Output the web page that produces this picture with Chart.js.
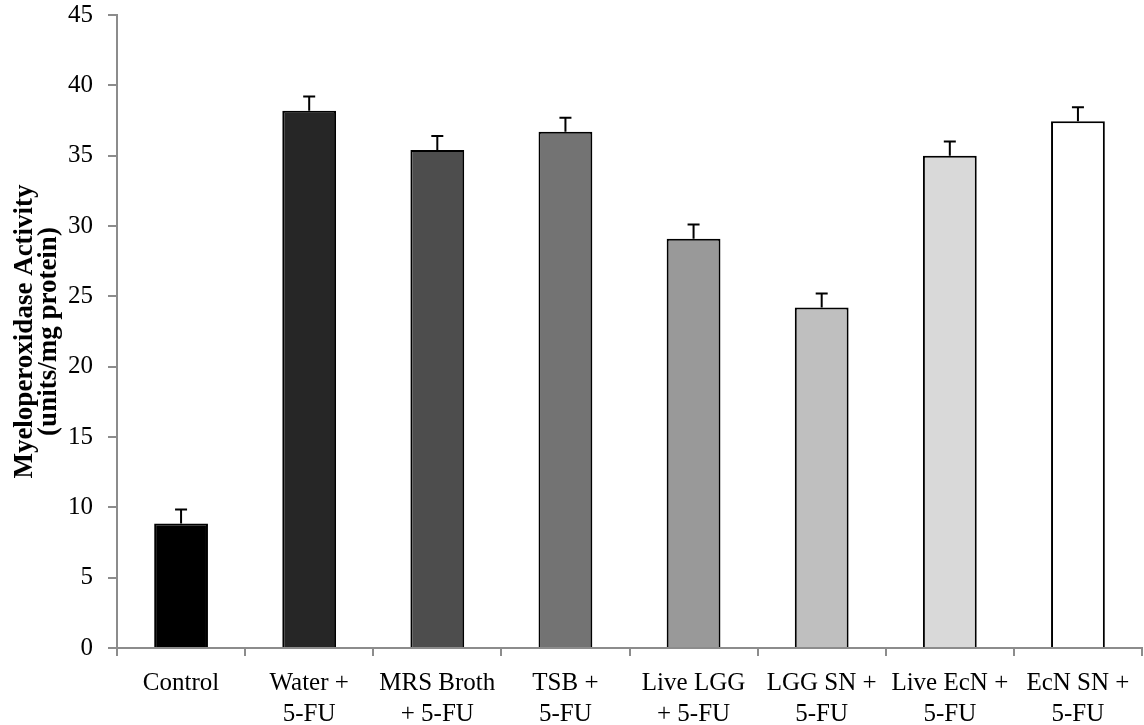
<!DOCTYPE html>
<html lang="en">
<head>
    <meta charset="UTF-8">
    <title>Myeloperoxidase Activity</title>
    <style>
        html, body { margin: 0; padding: 0; background: #fff; }
        #wrap { width: 1144px; height: 725px; position: relative; }
    </style>
</head>
<body>
<div id="wrap">
    <canvas id="chart"></canvas>
</div>
<script src="https://cdn.jsdelivr.net/npm/chart.js@4/dist/chart.umd.min.js"></script>
<script>
    'use strict';
    // categories (two-line labels)
    var groups = [
        'Control',
        ['Water +', '5-FU'],
        ['MRS Broth', '+ 5-FU'],
        ['TSB +', '5-FU'],
        ['Live LGG', '+ 5-FU'],
        ['LGG SN +', '5-FU'],
        ['Live EcN +', '5-FU'],
        ['EcN SN +', '5-FU']
    ];
    // mean activity, units/mg protein
    var mpo = [8.85, 38.2, 35.4, 36.7, 29.1, 24.2, 35.0, 37.45];
    // standard error (upper bar only)
    var mpoErr = [1.0, 1.0, 1.0, 1.0, 1.0, 1.0, 1.0, 1.0];
    var barColors = ['#000000', '#262626', '#4d4d4d', '#737373', '#999999', '#bfbfbf', '#d9d9d9', '#ffffff'];
    var yTitle = ['Myeloperoxidase Activity', '(units/mg protein)'];

    var serif = '"Liberation Serif", "Times New Roman", serif';
    var axisGrey = '#8c8c8c';

    // error bars, drawn through the y scale
    var errorBars = {
        id: 'errorBars',
        afterDatasetsDraw: function (chart) {
            var c = chart.ctx;
            var y = chart.scales.y;
            var meta = chart.getDatasetMeta(0);
            c.save();
            c.strokeStyle = '#000';
            c.lineWidth = 2;
            meta.data.forEach(function (bar, i) {
                var top = y.getPixelForValue(mpo[i]);
                var tip = y.getPixelForValue(mpo[i] + mpoErr[i]);
                c.beginPath();
                c.moveTo(bar.x, top);
                c.lineTo(bar.x, tip);
                c.moveTo(bar.x - 6, tip);
                c.lineTo(bar.x + 6, tip);
                c.stroke();
            });
            c.restore();
        }
    };

    new Chart(document.getElementById('chart'), {
        type: 'bar',
        data: {
            labels: groups,
            datasets: [{
                data: mpo,
                backgroundColor: barColors,
                borderColor: '#000',
                borderWidth: 2,
                borderSkipped: 'bottom',
                barPercentage: 0.84,
                categoryPercentage: 0.5
            }]
        },
        options: {
            responsive: true,
            maintainAspectRatio: false,
            animation: false,
            layout: { padding: { left: 0, right: 2, top: 15, bottom: 0 } },
            plugins: {
                legend: { display: false },
                tooltip: { enabled: false }
            },
            scales: {
                x: {
                    grid: { drawOnChartArea: false, color: axisGrey, lineWidth: 2, tickLength: 8, offset: true },
                    border: { color: axisGrey, width: 2 },
                    ticks: {
                        color: '#000',
                        padding: 12,
                        maxRotation: 0,
                        autoSkip: false,
                        font: { family: serif, size: 25, lineHeight: 1.24 }
                    },
                    afterFit: function (s) { s.height = 77; s.paddingLeft = 0; s.paddingRight = 0; }
                },
                y: {
                    min: 0,
                    max: 45,
                    grid: { drawOnChartArea: false, color: axisGrey, lineWidth: 2, tickLength: 9 },
                    border: { color: axisGrey, width: 2 },
                    ticks: {
                        stepSize: 5,
                        color: '#000',
                        padding: 15,
                        font: { family: serif, size: 25 }
                    },
                    title: {
                        display: true,
                        text: yTitle,
                        color: '#000',
                        padding: { top: 13, bottom: 0 },
                        font: { family: serif, size: 27, weight: 'bold', lineHeight: 0.9 }
                    },
                    afterFit: function (s) { s.width = 117; s.paddingTop = 0; s.paddingBottom = 0; }
                }
            }
        },
        plugins: [errorBars]
    });
</script>
</body>
</html>
